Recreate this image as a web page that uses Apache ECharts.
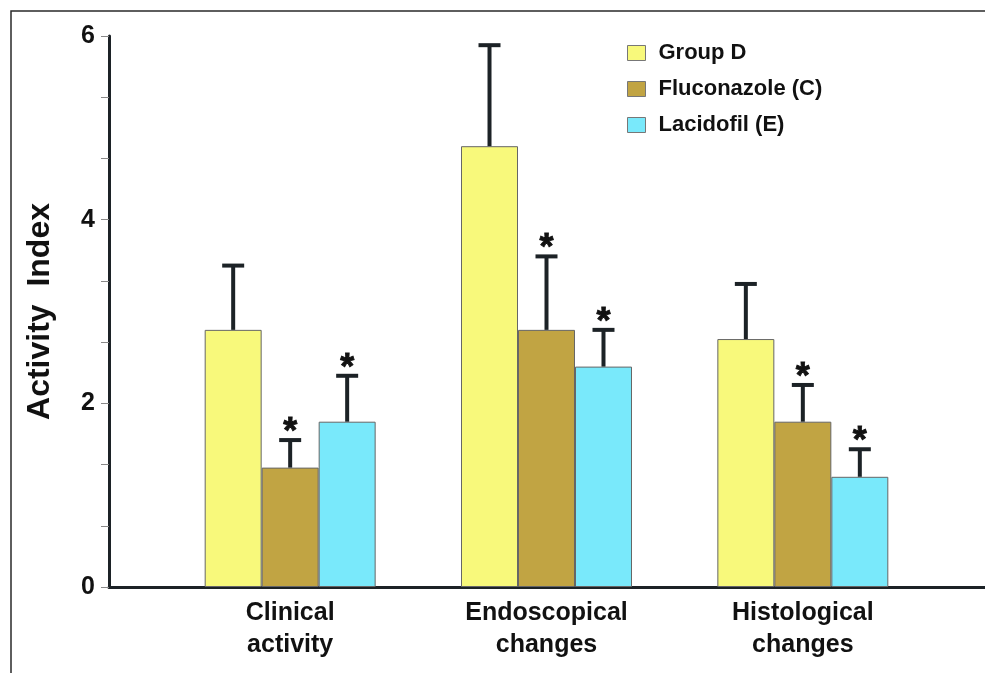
<!DOCTYPE html>
<html>
<head>
<meta charset="utf-8">
<script src="https://cdn.jsdelivr.net/npm/echarts@6/dist/echarts.min.js"></script>
<style>
html,body{margin:0;padding:0;background:#fff;}
#chart{width:985px;height:673px;}
</style>
</head>
<body>
<div id="chart"></div>
<script>
var categories = ['Clinical\nactivity', 'Endoscopical\nchanges', 'Histological\nchanges'];
var seriesNames = ['Group D', 'Fluconazole (C)', 'Lacidofil (E)'];
var groupD = [2.8, 4.8, 2.7];
var groupDErr = [0.7, 1.1, 0.6];
var fluconazole = [1.3, 2.8, 1.8];
var fluconazoleErr = [0.3, 0.8, 0.4];
var lacidofil = [1.8, 2.4, 1.2];
var lacidofilErr = [0.5, 0.4, 0.3];
var significant = [false, true, true];
var yTicks = [0, 2, 4, 6];

var colors = ['#f8f97b', '#c1a443', '#79e9fb'];
var values = [groupD, fluconazole, lacidofil];
var errs = [groupDErr, fluconazoleErr, lacidofilErr];
var GAP = 0.333;
var FONT = '"Liberation Sans", Arial, sans-serif';
var DARK = '#1c2226';

var chart = echarts.init(document.getElementById('chart'), null, {renderer: 'canvas'});

var series = [];
values.forEach(function (vals, s) {
  series.push({
    name: seriesNames[s],
    type: 'bar',
    xAxisIndex: 0, yAxisIndex: 0,
    data: vals,
    barGap: '0%',
    barCategoryGap: (GAP * 100) + '%',
    itemStyle: {color: colors[s], borderColor: '#666', borderWidth: 1},
    emphasis: {disabled: true},
    animation: false,
    z: 2
  });
});
values.forEach(function (vals, s) {
  series.push({
    type: 'custom',
    xAxisIndex: 0, yAxisIndex: 0,
    data: vals.map(function (v, i) { return [i, v, errs[s][i]]; }),
    encode: {x: 0, y: 1},
    animation: false,
    z: 5,
    renderItem: function (params, api) {
      var idx = api.value(0), v = api.value(1), e = api.value(2);
      var band = api.size([1, 0])[0];
      var barW = band * (1 - GAP) / 3;
      var base = api.coord([idx, v]);
      var top = api.coord([idx, v + e]);
      var x = base[0] + (s - 1) * barW;
      var children = [
        {type: 'line', shape: {x1: x, y1: base[1], x2: x, y2: top[1]}, style: {stroke: DARK, lineWidth: 4}},
        {type: 'line', shape: {x1: x - 11, y1: top[1], x2: x + 11, y2: top[1]}, style: {stroke: DARK, lineWidth: 4}}
      ];
      if (significant[s]) {
        children.push({type: 'text', style: {text: '*', x: x, y: top[1] - 7, align: 'center', verticalAlign: 'middle', font: 'bold 36px ' + FONT, fill: '#111', stroke: '#111', lineWidth: 0.8}});
      }
      return {type: 'group', children: children};
    }
  });
});

var option = {
  backgroundColor: '#ffffff',
  animation: false,
  grid: [
    {left: 162, right: 54, top: 36, bottom: 86},
    {left: 109, right: 0, top: 36, bottom: 86}
  ],
  legend: {
    data: seriesNames,
    orient: 'vertical',
    left: 622, top: 37,
    itemWidth: 18, itemHeight: 15,
    itemGap: 14,
    icon: 'rect',
    itemStyle: {borderColor: '#777', borderWidth: 1},
    textStyle: {fontFamily: FONT, fontWeight: 'bold', fontSize: 22, color: '#111', lineHeight: 22, padding: [0, 0, 0, 8]}
  },
  xAxis: [
    {
      type: 'category', gridIndex: 0, data: categories,
      axisLine: {show: false}, axisTick: {show: false},
      axisLabel: {fontFamily: FONT, fontWeight: 'bold', fontSize: 25, color: '#111', lineHeight: 32, margin: 10}
    },
    {
      type: 'value', gridIndex: 1, min: 0, max: 1,
      axisLine: {show: true, onZero: false, lineStyle: {color: DARK, width: 3}},
      axisTick: {show: false}, axisLabel: {show: false}, splitLine: {show: false}
    }
  ],
  yAxis: [
    {
      type: 'value', gridIndex: 0, min: 0, max: 6, interval: 2, show: false
    },
    {
      type: 'value', gridIndex: 1, min: yTicks[0], max: yTicks[yTicks.length - 1], interval: 2,
      name: 'Activity  Index', nameLocation: 'middle', nameGap: 53, nameRotate: 90,
      nameTextStyle: {fontFamily: FONT, fontWeight: 'bold', fontSize: 32, color: '#111'},
      axisLine: {show: true, lineStyle: {color: DARK, width: 3}},
      axisTick: {show: true, length: 8, lineStyle: {color: '#888', width: 1}},
      minorTick: {show: true, splitNumber: 3, length: 8, lineStyle: {color: '#888', width: 1}},
      axisLabel: {fontFamily: FONT, fontWeight: 'bold', fontSize: 25, color: '#111', margin: 14},
      splitLine: {show: false}
    }
  ],
  graphic: [
    {type: 'polyline', shape: {points: [[11, 673], [11, 11], [985, 11]]}, style: {stroke: '#2a2a2a', lineWidth: 1.5, fill: null}, silent: true}
  ],
  series: series
};
chart.setOption(option);
</script>
</body>
</html>
